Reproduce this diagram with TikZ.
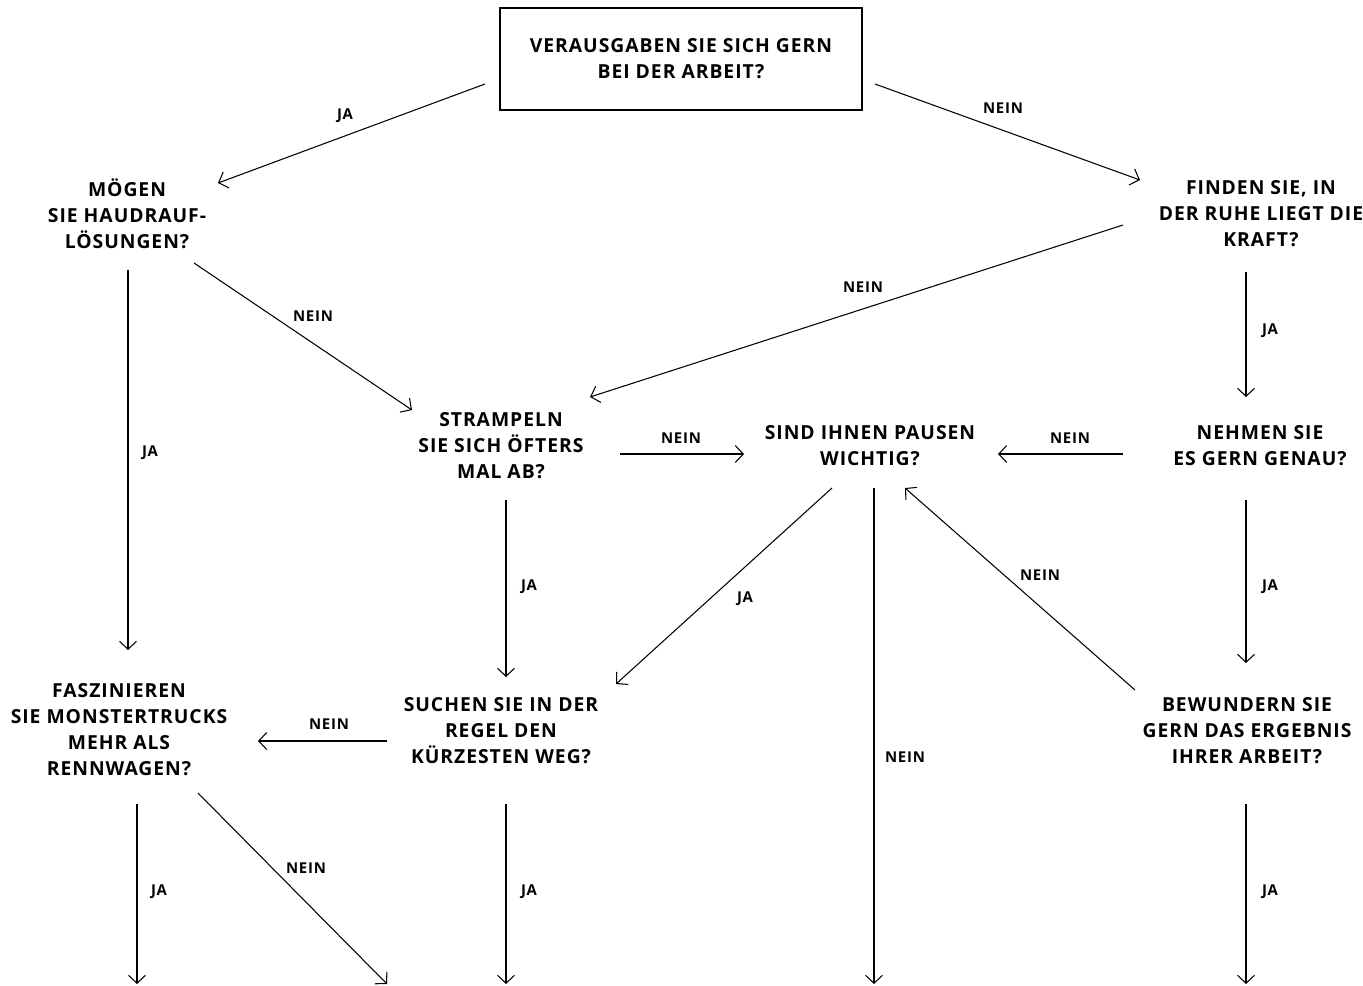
\documentclass[tikz,border=0pt]{standalone}
\usepackage{fontspec}
\setmainfont{Open Sans}[LetterSpace=5]
\usepackage{tikz}
\usetikzlibrary{arrows.meta}
\usetikzlibrary{calc}
\tikzstyle{frage}=[align=center, font=\bfseries\fontsize{11}{14.8}\selectfont, inner sep=0pt]
\tikzstyle{antwort}=[font=\bfseries\fontsize{8.5}{10}\selectfont, inner sep=0pt]
\tikzstyle{pfeil}=[-{Straight Barb[length=0.16cm, width=0.34cm]}]
\tikzset{every picture/.style={
    line width=0.6pt
  }
}

\begin{document}
\begin{tikzpicture}[x=0.02cm, y=-0.02cm]
        \useasboundingbox (0,0) rectangle (1363,985);
        % fragen
        \node[frage, draw, minimum width=362*0.02cm, minimum height=102*0.02cm] at (681,59) (arbeit) {VERAUSGABEN SIE SICH GERN\\BEI DER ARBEIT?};
        \node[frage] at (127,214) (haudrauf) {MÖGEN\\SIE HAUDRAUF-\\LÖSUNGEN?};
        \node[frage] at (1261,214) (ruhe) {FINDEN SIE, IN\\DER RUHE LIEGT DIE\\KRAFT?};
        \node[frage] at (501,446) (strampeln) {STRAMPELN\\SIE SICH ÖFTERS\\MAL AB?};
        \node[frage] at (870,446) (pausen) {SIND IHNEN PAUSEN\\WICHTIG?};
        \node[frage] at (1260,446) (genau) {NEHMEN SIE\\ES GERN GENAU?};
        \node[frage] at (119,730) (monster) {FASZINIEREN\\SIE MONSTERTRUCKS\\MEHR ALS\\RENNWAGEN?};
        \node[frage] at (501,731) (weg) {SUCHEN SIE IN DER\\REGEL DEN\\KÜRZESTEN WEG?};
        \node[frage] at (1247,731) (ergebnis) {BEWUNDERN SIE\\GERN DAS ERGEBNIS\\IHRER ARBEIT?};
        % freie enden
        \coordinate (endeA) at (137,984);
        \coordinate (endeB) at (387,984);
        \coordinate (endeC) at (506,984);
        \coordinate (endeD) at (874,984);
        \coordinate (endeE) at (1246,984);
        % pfeile
        \draw[pfeil] ($(arbeit)+(-196,25)$) -- ($(haudrauf)+(91,-31)$);
        \draw[pfeil] ($(arbeit)+(194,25)$) -- ($(ruhe)+(-121,-34)$);
        \draw[pfeil] ($(haudrauf)+(1,56)$) -- ($(monster)+(9,-80)$);
        \draw[pfeil] ($(haudrauf)+(67,49)$) -- ($(strampeln)+(-89,-36)$);
        \draw[pfeil] ($(ruhe)+(-138,11)$) -- ($(strampeln)+(89,-49)$);
        \draw[pfeil] ($(ruhe)+(-15,58)$) -- ($(genau)+(-14,-49)$);
        \draw[pfeil] ($(strampeln)+(119,8)$) -- ($(pausen)+(-126,8)$);
        \draw[pfeil] ($(genau)+(-137,8)$) -- ($(pausen)+(128,8)$);
        \draw[pfeil] ($(strampeln)+(5,54)$) -- ($(weg)+(5,-54)$);
        \draw[pfeil] ($(pausen)+(-38,42)$) -- ($(weg)+(115,-47)$);
        \draw[pfeil] ($(pausen)+(4,42)$) -- (endeD);
        \draw[pfeil] ($(ergebnis)+(-112,-41)$) -- ($(pausen)+(35,42)$);
        \draw[pfeil] ($(genau)+(-14,54)$) -- ($(ergebnis)+(-1,-68)$);
        \draw[pfeil] ($(weg)+(-114,10)$) -- ($(monster)+(139,11)$);
        \draw[pfeil] ($(monster)+(18,74)$) -- (endeA);
        \draw[pfeil] ($(monster)+(79,63)$) -- (endeB);
        \draw[pfeil] ($(weg)+(5,73)$) -- (endeC);
        \draw[pfeil] ($(ergebnis)+(-1,73)$) -- (endeE);
        % antworten
        \node[antwort] at (345,116) (a1) {JA};
        \node[antwort] at (1003,108) (a2) {NEIN};
        \node[antwort] at (150,453) (a3) {JA};
        \node[antwort] at (313,316) (a4) {NEIN};
        \node[antwort] at (863,287) (a5) {NEIN};
        \node[antwort] at (1270,331) (a6) {JA};
        \node[antwort] at (681,438) (a7) {NEIN};
        \node[antwort] at (1070,438) (a8) {NEIN};
        \node[antwort] at (529,587) (a9) {JA};
        \node[antwort] at (745,599) (a10) {JA};
        \node[antwort] at (905,757) (a11) {NEIN};
        \node[antwort] at (1040,575) (a12) {NEIN};
        \node[antwort] at (1270,587) (a13) {JA};
        \node[antwort] at (329,724) (a14) {NEIN};
        \node[antwort] at (159,892) (a15) {JA};
        \node[antwort] at (306,868) (a16) {NEIN};
        \node[antwort] at (529,892) (a17) {JA};
        \node[antwort] at (1270,892) (a18) {JA};
      \end{tikzpicture}
\end{document}
